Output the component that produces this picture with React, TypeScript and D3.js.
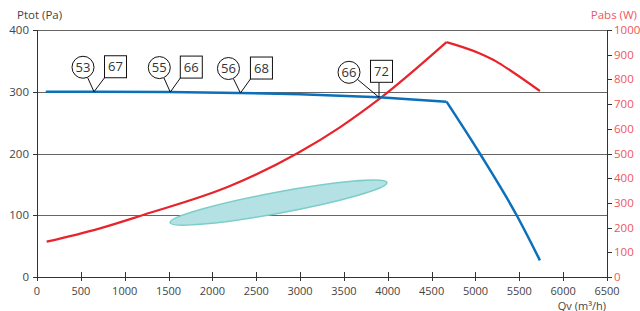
import * as d3 from 'd3';
import React from 'react';

// Ptot (Pa) vs Qv (m3/h): flat part, then the drop after the knee
const ptotQv = [100, 650, 1500, 2300, 3000, 3900, 4670];
const ptotVal = [300, 300, 299.5, 298, 296, 291, 284];
const ptotDropQv = [4670, 5050, 5470, 5735];
const ptotDropVal = [284, 200, 100, 27];

// Pabs (W) vs Qv (m3/h), rising part then falling part after the peak
const pabsRiseQv = [110, 700, 1210, 2200, 2980, 3450, 3900, 4670];
const pabsRiseVal = [143, 195, 251, 368, 503, 605, 720, 951];
const pabsFallQv = [4670, 5050, 5240, 5390, 5735];
const pabsFallVal = [951, 905, 872, 838, 753];

// operating points: Qv, circle value, square value
const markQv = [650, 1520, 2320, 3900];
const markCircle = ['53', '55', '56', '66'];
const markSquare = ['67', '66', '68', '72'];

// working zone ellipse ends (Qv, Ptot)
const zoneStart = [1517, 88];
const zoneEnd = [3991, 153];

const xTicks = [0, 500, 1000, 1500, 2000, 2500, 3000, 3500, 4000, 4500, 5000, 5500, 6000, 6500];
const leftTicks = [0, 100, 200, 300, 400];
const rightTicks = [0, 100, 200, 300, 400, 500, 600, 700, 800, 900, 1000];

const W = 640;
const H = 311;
const FONT = '"Open Sans", "DejaVu Sans", sans-serif';
const BLUE = '#0b70bb';
const RED = '#e8242b';
const RED_TXT = '#f0555c';
const TXT = '#444';

type Pt = [number, number];

export default function App() {
  const x = d3.scaleLinear().domain([0, 6500]).range([37, 607]);
  const yL = d3.scaleLinear().domain([0, 400]).range([277, 30]);
  const yR = d3.scaleLinear().domain([0, 1000]).range([277, 30]);

  const blueFlat = ptotQv.map((q, i) => [q, ptotVal[i]] as Pt);
  const blueDrop = ptotDropQv.map((q, i) => [q, ptotDropVal[i]] as Pt);
  const redRise = pabsRiseQv.map((q, i) => [q, pabsRiseVal[i]] as Pt);
  const redFall = pabsFallQv.map((q, i) => [q, pabsFallVal[i]] as Pt);

  const blueLine = d3
    .line<Pt>()
    .x(d => x(d[0]))
    .y(d => yL(d[1]));
  const blueCurve = d3
    .line<Pt>()
    .x(d => x(d[0]))
    .y(d => yL(d[1]))
    .curve(d3.curveMonotoneX);
  const redLine = d3
    .line<Pt>()
    .x(d => x(d[0]))
    .y(d => yR(d[1]))
    .curve(d3.curveMonotoneX);

  const ptotAt = (q: number) => {
    const i = Math.min(d3.bisectRight(ptotQv, q) - 1, ptotQv.length - 2);
    const t = (q - ptotQv[i]) / (ptotQv[i + 1] - ptotQv[i]);
    return ptotVal[i] + t * (ptotVal[i + 1] - ptotVal[i]);
  };

  // label offsets from the curve point
  const offs = [
    { cx: -11, cy: -24.5, sx: 21.5, sy: -25 },
    { cx: -11, cy: -24.5, sx: 21, sy: -25 },
    { cx: -12, cy: -24.5, sx: 21, sy: -25 },
    { cx: -30, cy: -25, sx: 2.5, sy: -26 },
  ];

  const ex0 = x(zoneStart[0]);
  const ey0 = yL(zoneStart[1]);
  const ex1 = x(zoneEnd[0]);
  const ey1 = yL(zoneEnd[1]);
  const ecx = (ex0 + ex1) / 2;
  const ecy = (ey0 + ey1) / 2;
  const erx = Math.hypot(ex1 - ex0, ey1 - ey0) / 2;
  const eang = (Math.atan2(ey1 - ey0, ex1 - ex0) * 180) / Math.PI;

  return (
    <svg
      width={W}
      height={H}
      style={{ position: 'absolute', left: 0, top: 0, background: '#fff' }}
      fontFamily={FONT}
    >
      {/* grid */}
      {leftTicks.slice(1).map(t => (
        <line
          key={'g' + t}
          x1={x(0)}
          x2={x(6500)}
          y1={Math.round(yL(t)) + 0.5}
          y2={Math.round(yL(t)) + 0.5}
          stroke="#666"
          strokeWidth={1}
        />
      ))}

      {/* zone */}
      <ellipse
        cx={ecx}
        cy={ecy}
        rx={erx}
        ry={10.5}
        transform={`rotate(${eang},${ecx},${ecy})`}
        fill="#b4e1e4"
        stroke="#7ccdc9"
        strokeWidth={1.5}
      />

      {/* axes */}
      <line x1={x(0)} x2={x(6500)} y1={277.5} y2={277.5} stroke="#333" />
      <line x1={37.5} x2={37.5} y1={30} y2={281} stroke="#333" />
      <line x1={607.5} x2={607.5} y1={30} y2={281} stroke="#333" />
      {xTicks.map(t => (
        <g key={'x' + t}>
          <line x1={Math.round(x(t)) + 0.5} x2={Math.round(x(t)) + 0.5} y1={272} y2={281} stroke="#333" />
          <text x={x(t)} y={295} textAnchor="middle" fontSize={11} fill={TXT}>
            {t}
          </text>
        </g>
      ))}
      {leftTicks.map(t => (
        <g key={'l' + t}>
          <line x1={33} x2={37} y1={Math.round(yL(t)) + 0.5} y2={Math.round(yL(t)) + 0.5} stroke="#333" />
          <text x={29} y={yL(t) + 4} textAnchor="end" fontSize={11.5} fill={TXT}>
            {t}
          </text>
        </g>
      ))}
      {rightTicks.map(t => (
        <g key={'r' + t}>
          <line x1={607} x2={612} y1={Math.round(yR(t)) + 0.5} y2={Math.round(yR(t)) + 0.5} stroke="#333" />
          <text x={614} y={yR(t) + 4} fontSize={11.5} fill={RED_TXT}>
            {t}
          </text>
        </g>
      ))}
      <text x={17} y={18.5} fontSize={11.5} fill={TXT}>
        Ptot (Pa)
      </text>
      <text x={637} y={18.5} textAnchor="end" fontSize={11.5} fill={RED_TXT}>
        Pabs (W)
      </text>
      <text x={606} y={309.5} textAnchor="end" fontSize={11} fill={TXT}>
        Qv (m³/h)
      </text>

      {/* curves */}
      <path d={redLine(redRise) ?? ''} fill="none" stroke={RED} strokeWidth={2.2} />
      <path d={redLine(redFall) ?? ''} fill="none" stroke={RED} strokeWidth={2.2} />
      <path d={blueLine(blueFlat) ?? ''} fill="none" stroke={BLUE} strokeWidth={2.5} />
      <path d={blueCurve(blueDrop) ?? ''} fill="none" stroke={BLUE} strokeWidth={2.5} strokeLinejoin="round" />

      {/* operating point labels */}
      {markQv.map((q, i) => {
        const px = x(q);
        const py = yL(ptotAt(q));
        const o = offs[i];
        const ccx = px + o.cx;
        const ccy = py + o.cy;
        const d = Math.hypot(px - ccx, py - ccy);
        const c1x = ccx + ((px - ccx) / d) * 11;
        const c1y = ccy + ((py - ccy) / d) * 11;
        const scx = px + o.sx;
        const scy = py + o.sy;
        const lx = Math.max(scx - 11, Math.min(scx + 11, px));
        return (
          <g key={'m' + q}>
            <line x1={c1x} y1={c1y} x2={px} y2={py} stroke="#111" strokeWidth={1} />
            <line x1={lx} y1={scy + 11} x2={px} y2={py} stroke="#111" strokeWidth={1} />
            <circle cx={ccx} cy={ccy} r={11} fill="#fff" stroke="#111" strokeWidth={1} />
            <text x={ccx} y={ccy + 4.6} textAnchor="middle" fontSize={13} fill="#333">
              {markCircle[i]}
            </text>
            <rect x={scx - 11} y={scy - 11} width={22} height={22} fill="#fff" stroke="#111" strokeWidth={1} />
            <text x={scx} y={scy + 4.6} textAnchor="middle" fontSize={13} fill="#333">
              {markSquare[i]}
            </text>
          </g>
        );
      })}
    </svg>
  );
}
